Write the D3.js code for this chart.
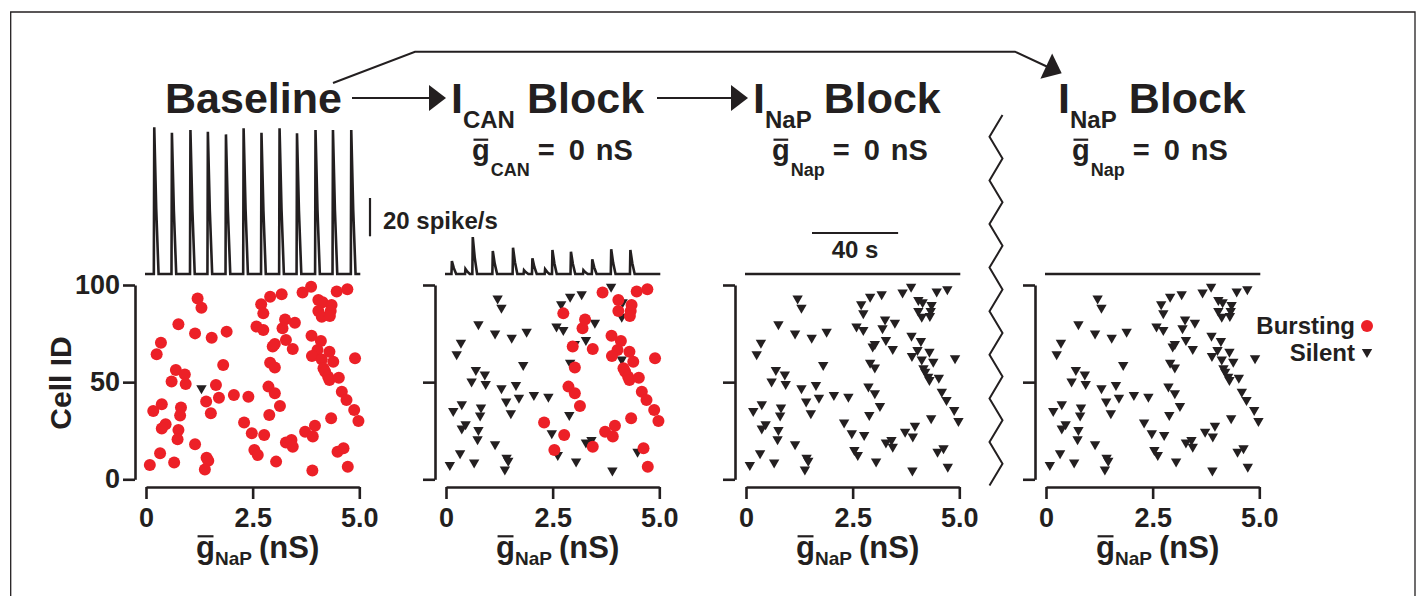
<!DOCTYPE html>
<html>
<head>
<meta charset="utf-8">
<script src="https://cdn.jsdelivr.net/npm/d3@7"></script>
<style>
  body { margin: 0; background: #fff; }
  text { font-family: "Liberation Sans", Arial, sans-serif; font-weight: bold; fill: #231f20; }
</style>
</head>
<body>
<svg id="fig" width="1419" height="596"></svg>
<script>
// cells: gNaP (nS) and cell ID, same cells in every condition
let gnap = [1.21,1.30,0.76,1.15,1.54,1.89,0.35,0.25,1.81,0.70,
            0.91,0.60,0.93,1.30,1.64,1.41,1.71,2.06,2.40,0.37,
            0.17,0.82,0.80,1.52,0.46,0.37,0.76,0.74,1.15,0.33,
            0.09,0.66,1.42,1.46,1.38,2.30,2.48,2.77,2.54,2.62,
            3.05,2.89,3.14,2.87,3.02,2.91,3.02,2.97,3.02,3.28,
            3.44,2.59,2.75,3.20,3.26,3.49,2.70,2.75,2.91,3.18,
            3.67,3.87,4.04,4.14,4.35,4.33,4.04,4.12,4.31,4.47,
            4.72,3.88,4.10,4.02,3.89,4.12,4.30,4.39,4.90,4.16,
            4.20,4.27,4.30,4.52,4.59,4.70,4.88,4.98,4.34,3.96,
            3.73,3.91,3.28,3.41,3.44,4.49,4.63,3.90,4.73];
let cellId = [93.1,88.3,79.8,75.1,72.9,76.0,70.3,64.3,58.8,56.3,
              54.0,50.3,49.1,46.8,48.5,40.0,42.0,43.4,42.5,38.6,
              35.2,36.9,32.8,34.0,28.3,26.2,25.4,20.6,18.0,13.4,
              7.4,8.6,11.1,9.6,5.1,29.2,23.7,22.8,15.1,12.5,
              9.1,33.1,37.7,47.7,44.3,60.0,57.5,68.3,69.6,71.7,
              67.1,78.6,76.8,77.7,82.3,80.6,90.1,85.4,94.0,95.2,
              96.1,99.1,92.3,91.1,89.7,86.6,86.6,83.7,84.0,96.6,
              97.8,73.9,71.2,66.6,63.5,61.7,65.7,60.5,62.3,57.1,
              55.4,52.8,51.1,52.3,45.1,40.8,35.7,30.0,31.4,27.6,
              24.5,22.0,18.9,20.2,16.8,14.2,16.0,4.5,6.5];
// 1 = bursting, 0 = silent
let burstBaseline = [1,1,1,1,1,1,1,1,1,1, 1,1,1,0,1,1,1,1,1,1, 1,1,1,1,1,1,1,1,1,1,
                     1,1,1,1,1,1,1,1,1,1, 1,1,1,1,1,1,1,1,1,1, 1,1,1,1,1,1,1,1,1,1,
                     1,1,1,1,1,1,1,1,1,1, 1,1,1,1,1,1,1,1,1,1, 1,1,1,1,1,1,1,1,1,1,
                     1,1,1,1,1,1,1,1,1];
let burstCan = [0,0,0,0,0,0,0,0,0,0, 0,0,0,0,0,0,0,0,0,0, 0,0,0,0,0,0,0,0,0,0,
                0,0,0,0,0,1,0,1,1,0, 0,0,1,1,1,0,1,1,0,0, 1,0,0,1,1,0,0,1,0,0,
                1,0,1,0,1,1,1,0,1,1, 1,1,1,1,1,0,1,1,1,1, 1,1,1,1,1,1,1,1,1,1,
                1,1,0,0,1,0,1,0,1];
let burstNap = gnap.map(() => 0);

// population rate traces: burst times (s) and peak rates (spike/s)
let baseBurstT = [4.5,12.7,21.3,29.4,37.8,46.0,54.3,62.7,70.8,79.4,87.5,96.0];
let baseBurstR = [76.6,73.8,75.2,74.3,72.9,76.1,73.8,76.1,73.5,75.2,75.2,75.2];
let canBurstT = [3.4,9.7,13.1,22.4,31.8,36.9,40.8,46.7,50.1,58.7,64.5,68.6,77.4,86.3];
let canBurstR = [6.8,2.6,19.3,12.0,13.7,2.0,8.2,2.5,12.5,11.6,2.0,7.7,12.9,12.5];

let yTicks = [0, 50, 100];
let xTicks = [0, 2.5, 5];
let xTickLabels = ["0", "2.5", "5.0"];

const ink = "#231f20", red = "#ec2027";
const svg = d3.select("#fig");
svg.append("rect").attr("width", 1419).attr("height", 596).attr("fill", "#fff");
svg.append("path").attr("d", "M10.7,600V12H1415V600")
  .attr("fill", "none").attr("stroke", ink).attr("stroke-width", 1.3);

// lays out text pieces left to right, optional overbar on a piece
function richText(x, yb, parts, center) {
  const grp = svg.append("g");
  let cx = x;
  parts.forEach(pt => {
    cx += pt.gap || 0;
    const el = grp.append("text").attr("x", cx).attr("y", yb + (pt.dy || 0))
      .attr("font-size", pt.size).text(pt.t);
    const w = el.node().getComputedTextLength();
    if (pt.bar) {
      grp.append("line").attr("x1", cx + 1.5).attr("x2", cx + w - 1.5)
        .attr("y1", yb - pt.size * 0.7).attr("y2", yb - pt.size * 0.7)
        .attr("stroke", ink).attr("stroke-width", 2.2);
    }
    cx += w;
  });
  if (center) grp.attr("transform", `translate(${-(cx - x) / 2},0)`);
  return grp;
}

const panelX = [146, 446, 746, 1046];
const panelW = 213.3;
const y = d3.scaleLinear().domain([0, 100]).range([479.3, 285]);
const states = [burstBaseline, burstCan, burstNap, burstNap];
const bursts = [[baseBurstT, baseBurstR], [canBurstT, canBurstR], [[], []], [[], []]];
const rate = d3.scaleLinear().domain([0, 20]).range([274, 274 - 38.3]);
const tri = "M-5.2,-3L5.2,-3L0,6Z";

panelX.forEach((x0, p) => {
  const x = d3.scaleLinear().domain([0, 5]).range([x0, x0 + panelW]);
  const t = d3.scaleLinear().domain([0, 100]).range([x0 - 1, x0 + panelW + 1]);
  const g = svg.append("g");

  const ya = g.append("g").attr("transform", `translate(${x0 - 11},0)`)
    .call(d3.axisLeft(y).tickValues(yTicks).tickSize(12).tickSizeOuter(0).tickPadding(3)
      .tickFormat(p == 0 ? d => d : () => ""));
  const xa = g.append("g").attr("transform", "translate(0,487)")
    .call(d3.axisBottom(x).tickValues(xTicks).tickSize(12).tickSizeOuter(0).tickPadding(9)
      .tickFormat((d, i) => xTickLabels[i]));
  [ya, xa].forEach(a => {
    a.attr("font-family", null).attr("font-size", 27);
    a.selectAll("path,line").attr("stroke", ink).attr("stroke-width", 2.6);
    a.selectAll("text").attr("fill", ink);
  });

  // population trace
  const [bt, br] = bursts[p];
  const pts = [[0, 0]];
  bt.forEach((tt, i) => {
    pts.push([tt - 0.4, 0], [tt - 0.2, br[i]], [tt + 0.7, br[i] * 0.45], [tt + 1.8, 0]);
  });
  pts.push([100, 0]);
  g.append("path").attr("d", d3.line().x(d => t(d[0])).y(d => rate(d[1]))(pts))
    .attr("fill", "none").attr("stroke", ink).attr("stroke-width", 2.6)
    .attr("stroke-linejoin", "miter");

  // cells
  const cells = gnap.map((v, i) => ({ g: v, id: cellId[i], b: states[p][i] }));
  g.selectAll("path.silent").data(cells.filter(c => !c.b)).join("path")
    .attr("class", "silent").attr("d", tri).attr("fill", ink)
    .attr("transform", c => `translate(${x(c.g)},${y(c.id)})`);
  g.selectAll("circle").data(cells.filter(c => c.b)).join("circle")
    .attr("cx", c => x(c.g)).attr("cy", c => y(c.id)).attr("r", 6).attr("fill", red);

  // x axis title
  richText(x0 + panelW / 2 + 5, 558, [
    { t: "g", size: 31, bar: true },
    { t: "NaP", size: 19, dy: 7 },
    { t: "(nS)", size: 31, gap: 7 }
  ], true);
});

svg.append("text").attr("transform", "translate(71,383) rotate(-90)")
  .attr("text-anchor", "middle").attr("font-size", 30).text("Cell ID");

// titles
svg.append("text").attr("x", 165).attr("y", 113).attr("font-size", 43).text("Baseline");
[["CAN", 451], ["NaP", 753], ["NaP", 1058]].forEach(([s, x]) => {
  richText(x, 113, [
    { t: "I", size: 43 },
    { t: s, size: 24, dy: 15, gap: 0 },
    { t: "Block", size: 43, gap: 12 }
  ]);
});
[["CAN", 472], ["Nap", 772], ["Nap", 1072]].forEach(([s, x]) => {
  richText(x, 160, [
    { t: "g", size: 29, bar: true },
    { t: s, size: 18, dy: 16, gap: 1 },
    { t: "=", size: 29, gap: 8 },
    { t: "0", size: 29, gap: 14 },
    { t: "nS", size: 29, gap: 11 }
  ]);
});

// arrows
function arrowHead(tip, dir, len, wid) {
  const [ux, uy] = dir, px = -uy, py = ux;
  const bx = tip[0] - ux * len, by = tip[1] - uy * len;
  svg.append("path").attr("fill", ink)
    .attr("d", `M${tip}L${bx + px * wid / 2},${by + py * wid / 2}L${bx - px * wid / 2},${by - py * wid / 2}Z`);
}
svg.append("line").attr("x1", 352).attr("x2", 433).attr("y1", 98).attr("y2", 98)
  .attr("stroke", ink).attr("stroke-width", 2);
arrowHead([446, 98], [1, 0], 17, 26);
svg.append("line").attr("x1", 657).attr("x2", 735).attr("y1", 98).attr("y2", 98)
  .attr("stroke", ink).attr("stroke-width", 2);
arrowHead([748, 98], [1, 0], 17, 26);
const d4 = [1061.7 - 1015, 73.3 - 51.7], n4 = Math.hypot(d4[0], d4[1]);
svg.append("path").attr("d", "M333,83L415,51.7L1015,51.7L1050,68")
  .attr("fill", "none").attr("stroke", ink).attr("stroke-width", 2);
arrowHead([1061.7, 73.3], [d4[0] / n4, d4[1] / n4], 17, 28);

// axis break
const zz = [];
for (let i = 0; i <= 17; i++) zz.push([i % 2 ? 989.5 : 1002.5, 115 + i * 21.8]);
svg.append("path").attr("d", d3.line()(zz)).attr("fill", "none")
  .attr("stroke", ink).attr("stroke-width", 2);

// scale bars
svg.append("line").attr("x1", 370).attr("x2", 370).attr("y1", 198).attr("y2", 198 + (rate(0) - rate(20)))
  .attr("stroke", ink).attr("stroke-width", 2.2);
svg.append("text").attr("x", 383).attr("y", 229).attr("font-size", 24).text("20 spike/s");
const t3 = d3.scaleLinear().domain([0, 100]).range([745, 960.3]);
svg.append("line").attr("x1", 812).attr("x2", 812 + t3(40) - t3(0)).attr("y1", 233).attr("y2", 233)
  .attr("stroke", ink).attr("stroke-width", 2.2);
svg.append("text").attr("x", 855).attr("y", 258).attr("text-anchor", "middle")
  .attr("font-size", 24).text("40 s");

// legend
svg.append("text").attr("x", 1355).attr("y", 334).attr("text-anchor", "end")
  .attr("font-size", 24).text("Bursting");
svg.append("circle").attr("cx", 1367).attr("cy", 326).attr("r", 6).attr("fill", red);
svg.append("text").attr("x", 1355).attr("y", 361).attr("text-anchor", "end")
  .attr("font-size", 24).text("Silent");
svg.append("path").attr("d", tri).attr("fill", ink).attr("transform", "translate(1367,352)");
</script>
</body>
</html>
